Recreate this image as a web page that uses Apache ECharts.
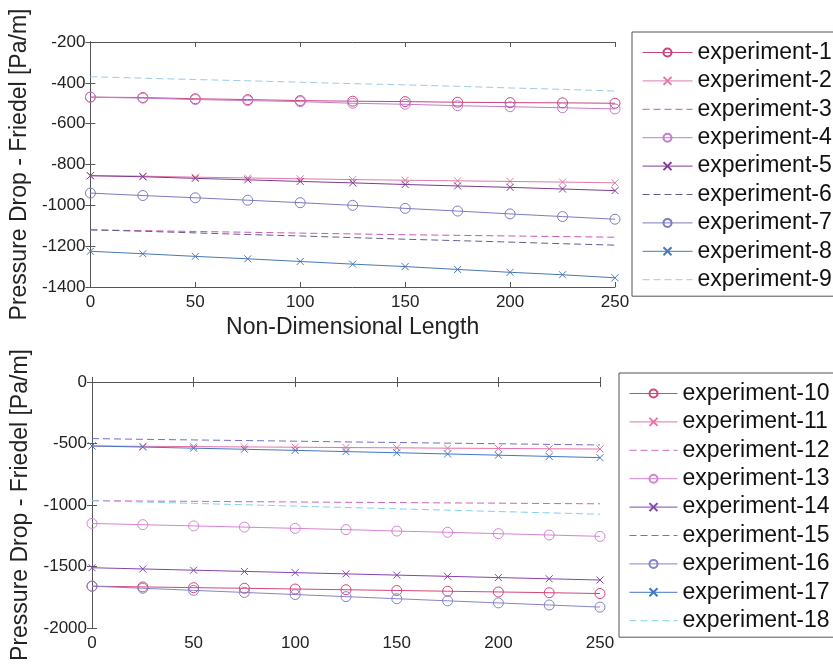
<!DOCTYPE html>
<html>
<head>
<meta charset="utf-8">
<script src="https://cdn.jsdelivr.net/npm/echarts@6/dist/echarts.min.js"></script>
<style>html,body{margin:0;padding:0;background:#fff}#c{width:833px;height:664px}</style>
</head>
<body>
<div id="c"></div>
<script>
const xs = [0, 25, 50, 75, 100, 125, 150, 175, 200, 225, 250];

// top panel
const exp1 = [-470, -472, -478, -482, -487, -490, -492, -495, -497, -498, -500];
const exp2 = [-855, -857, -862, -866, -870, -874, -877, -880, -883, -886, -890];
const exp3 = [-1120, -1124, -1128, -1132, -1136, -1140, -1144, -1147, -1150, -1153, -1156];
const exp4 = [-470, -475, -482, -487, -492, -500, -505, -512, -517, -522, -528];
const exp5 = [-855, -860, -868, -875, -883, -890, -898, -905, -912, -920, -928];
const exp6 = [-1120, -1127, -1135, -1143, -1150, -1158, -1166, -1173, -1180, -1188, -1195];
const exp7 = [-940, -952, -963, -975, -987, -1000, -1015, -1028, -1042, -1055, -1068];
const exp8 = [-1225, -1237, -1250, -1262, -1275, -1288, -1300, -1314, -1328, -1340, -1355];
const exp9 = [-370, -377, -384, -390, -397, -404, -410, -417, -425, -432, -440];

// bottom panel
const exp10 = [-1660, -1666, -1672, -1677, -1683, -1689, -1695, -1701, -1707, -1713, -1720];
const exp11 = [-520, -523, -525, -528, -530, -533, -535, -538, -540, -543, -545];
const exp12 = [-965, -968, -970, -973, -975, -978, -980, -983, -985, -988, -990];
const exp13 = [-1150, -1160, -1170, -1180, -1190, -1200, -1212, -1222, -1233, -1244, -1255];
const exp14 = [-1510, -1520, -1530, -1540, -1550, -1560, -1570, -1580, -1590, -1600, -1610];
const exp15 = [-460, -466, -471, -476, -481, -487, -492, -497, -502, -507, -512];
const exp16 = [-1660, -1677, -1694, -1711, -1728, -1745, -1762, -1779, -1796, -1813, -1830];
const exp17 = [-520, -529, -538, -547, -556, -566, -575, -585, -595, -605, -615];
const exp18 = [-965, -976, -987, -998, -1009, -1020, -1031, -1042, -1053, -1064, -1075];

const topNames = ['experiment-1','experiment-2','experiment-3','experiment-4','experiment-5','experiment-6','experiment-7','experiment-8','experiment-9'];
const botNames = ['experiment-10','experiment-11','experiment-12','experiment-13','experiment-14','experiment-15','experiment-16','experiment-17','experiment-18'];
const topData = [exp1, exp2, exp3, exp4, exp5, exp6, exp7, exp8, exp9];
const botData = [exp10, exp11, exp12, exp13, exp14, exp15, exp16, exp17, exp18];
const kinds = ['circle','cross','dash','circle','cross','dash','circle','cross','dash'];
const topColors = ['#c8447a','#e07aa8','#c858b4','#c47ccc','#7e3c94','#62608c','#7c7cc0','#4a78b8','#9ccbe6'];
const botColors = ['#d4467a','#e474a6','#d064b8','#d484d4','#8444b4','#7070c4','#8484cc','#4476c4','#84d0ec'];

const FONT = 'Liberation Sans, Arial, sans-serif';
const CROSS = 'path://M0 0L10 10M10 0L0 10';

function mkSeries(names, datas, colors, gi) {
  return names.map((n, i) => {
    const k = kinds[i], c = colors[i];
    const s = {
      name: n, type: 'line', xAxisIndex: gi * 2, yAxisIndex: gi * 2,
      data: xs.map((x, j) => [x, datas[i][j]]),
      color: c, lineStyle: { width: 1, color: c }, animation: false
    };
    if (k === 'circle') {
      s.symbol = 'circle'; s.symbolSize = 10;
      s.itemStyle = { color: 'rgba(255,255,255,0)', borderColor: c, borderWidth: 1 };
    } else if (k === 'cross') {
      s.symbol = CROSS; s.symbolSize = 7;
      s.itemStyle = { color: c, borderColor: c, borderWidth: 1 };
    } else {
      s.symbol = 'none';
      s.lineStyle.type = [7, 4];
    }
    return s;
  });
}

const tickFmt = v => String(v);

function axesFor(gi, min, max, interval, showXName) {
  const axisLine = { show: true, lineStyle: { color: '#555', width: 1 } };
  const tick = { show: true, inside: true, length: 5, lineStyle: { color: '#555' } };
  const x1 = { type: 'value', gridIndex: gi, min: 0, max: 250, interval: 50, position: 'bottom',
    axisLine, axisTick: tick, splitLine: { show: false },
    axisLabel: { fontFamily: FONT, fontSize: 17, color: '#222', margin: 7, formatter: tickFmt } };
  if (showXName) {
    x1.name = 'Non-Dimensional Length'; x1.nameLocation = 'middle'; x1.nameGap = 29;
    x1.nameTextStyle = { fontFamily: FONT, fontSize: 23, color: '#222' };
  }
  const x2 = { type: 'value', gridIndex: gi, min: 0, max: 250, interval: 50, position: 'top',
    axisLine, axisTick: tick, axisLabel: { show: false }, splitLine: { show: false } };
  const y1 = { type: 'value', gridIndex: gi, min, max, interval, position: 'left',
    axisLine, axisTick: tick, splitLine: { show: false },
    axisLabel: { fontFamily: FONT, fontSize: 17, color: '#222', margin: 5, formatter: tickFmt },
    name: 'Pressure Drop - Friedel [Pa/m]', nameLocation: 'middle', nameGap: 49,
    nameTextStyle: { fontFamily: FONT, fontSize: 23, color: '#222' } };
  const y2 = { type: 'value', gridIndex: gi, min, max, interval, position: 'right',
    axisLine, axisTick: tick, axisLabel: { show: false }, splitLine: { show: false } };
  return { x: [x1, x2], y: [y1, y2] };
}

const a0 = axesFor(0, -1400, -200, 200, true);
const a1 = axesFor(1, -2000, 0, 500, false);

function mkLegend(names, left, top, iw) {
  return {
    data: names.map((n, i) => kinds[i] === 'dash'
      ? { name: n, itemStyle: { opacity: 0 } }
      : { name: n }),
    orient: 'vertical', left, top,
    backgroundColor: '#fff', borderColor: '#555', borderWidth: 1,
    padding: [9, 4, 5, 10], itemWidth: iw, itemHeight: 10, itemGap: 5.4,
    lineStyle: { width: 1, color: 'inherit', type: 'inherit' },
    textStyle: { fontFamily: FONT, fontSize: 23, color: '#111' },
    selectedMode: false
  };
}

const option = {
  backgroundColor: '#fff',
  animation: false,
  grid: [
    { left: 90, top: 42, width: 525, height: 245 },
    { left: 92, top: 382, width: 508, height: 246 }
  ],
  xAxis: [a0.x[0], a0.x[1], a1.x[0], a1.x[1]],
  yAxis: [a0.y[0], a0.y[1], a1.y[0], a1.y[1]],
  legend: [mkLegend(topNames, 632, 32, 50), mkLegend(botNames, 619, 373, 48)],
  series: mkSeries(topNames, topData, topColors, 0).concat(mkSeries(botNames, botData, botColors, 1))
};

const chart = echarts.init(document.getElementById('c'), null, { renderer: 'canvas' });
chart.setOption(option);
</script>
</body>
</html>
